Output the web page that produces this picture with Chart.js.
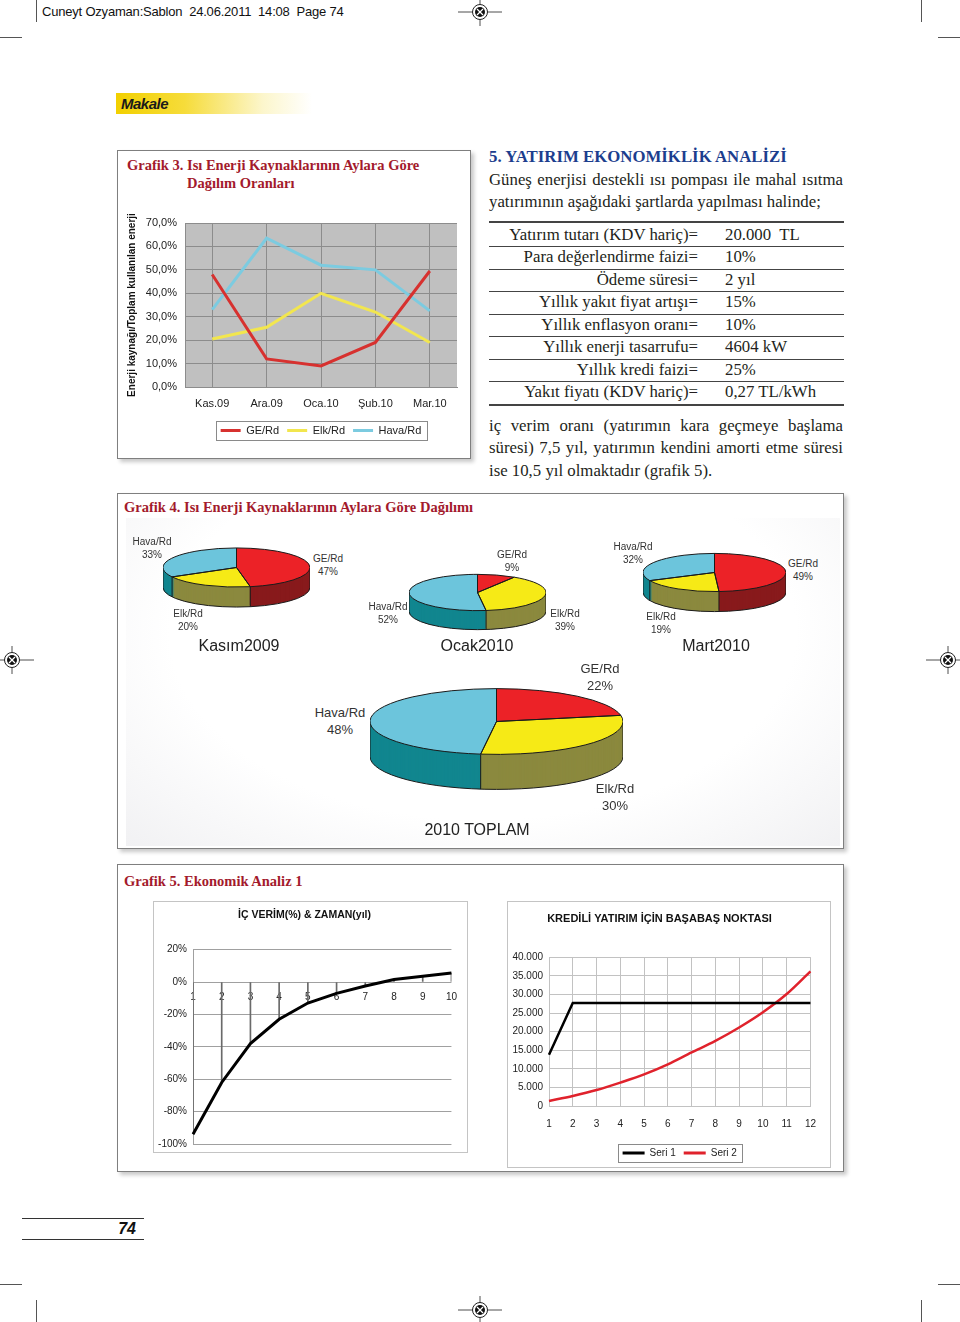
<!DOCTYPE html>
<html lang="tr">
<head>
<meta charset="utf-8">
<title>Grafik 3 - 5</title>
<script src="https://cdn.jsdelivr.net/npm/chart.js@4.4.0/dist/chart.umd.min.js"></script>
<style>
  html, body { margin: 0; padding: 0; background: #fff; }
  #page { position: relative; width: 960px; height: 1322px; overflow: hidden;
          font-family: "Liberation Serif", "Times New Roman", serif; color: #231f20; }
  .abs { position: absolute; white-space: nowrap; }
  .hdr { left: 42px; top: 2px; font: 13px/20px "Liberation Sans", Arial, sans-serif; color: #111; letter-spacing: -0.2px; }
  .box { position: absolute; box-sizing: border-box; border: 1.5px solid #7f7f7f;
         box-shadow: 3px 3px 4px rgba(0,0,0,.22); background: #fff; }
  .panel { position: absolute; box-sizing: border-box; border: 1px solid #c4c4c4; background: #fff; }
  .gtitle { position: absolute; white-space: nowrap; color: #a31a2c; font-weight: bold; font-size: 14.5px; line-height: 18px; }
  .body { position: absolute; font-size: 16.8px; line-height: 22px; white-space: nowrap; }
  .just { text-align: justify; text-align-last: justify; white-space: normal; width: 354px; }
  .rule { position: absolute; left: 489px; width: 355px; height: 1px; background: #444; }
  .lbl { position: absolute; text-align: right; width: 209px; left: 489px; }
  .val { position: absolute; left: 725px; }
  .pl { position: absolute; transform: translateX(-50%); text-align: center; white-space: nowrap;
        font: 10px/13px "Liberation Sans", Arial, sans-serif; color: #333; z-index: 3; }
  .pl.big { font-size: 13px; line-height: 17px; }
  .ptitle { position: absolute; transform: translateX(-50%); white-space: nowrap;
            font: 16px/20px "Liberation Sans", Arial, sans-serif; color: #222; z-index: 3; }
  canvas { position: absolute; }
  .mark { position: absolute; background: #555; }
</style>
</head>
<body>
<div id="page">
  <!-- print header & crop marks -->
  <div class="abs hdr">Cuneyt Ozyaman:Sablon&nbsp; 24.06.2011&nbsp; 14:08&nbsp; Page 74</div>
  <div class="mark" style="left:36px;top:0;width:1px;height:22px"></div>
  <div class="mark" style="left:921px;top:0;width:1px;height:22px"></div>
  <div class="mark" style="left:0;top:37px;width:22px;height:1px"></div>
  <div class="mark" style="left:938px;top:37px;width:22px;height:1px"></div>
  <div class="mark" style="left:0;top:1284px;width:22px;height:1px"></div>
  <div class="mark" style="left:938px;top:1284px;width:22px;height:1px"></div>
  <div class="mark" style="left:36px;top:1300px;width:1px;height:22px"></div>
  <div class="mark" style="left:921px;top:1300px;width:1px;height:22px"></div>

  <!-- Makale band -->
  <div class="abs" style="left:116px;top:93px;width:196px;height:21px;background:linear-gradient(to right,#f2d000 0%,#f6dc3a 35%,rgba(250,240,170,.6) 75%,rgba(255,255,255,0) 100%)"></div>
  <div class="abs" style="left:121px;top:93px;font:bold italic 15px/21px 'Liberation Sans',Arial,sans-serif;color:#1a1a1a;letter-spacing:-0.5px">Makale</div>

  <!-- Grafik 3 -->
  <div class="box" style="left:117px;top:150px;width:354px;height:309px"></div>
  <div class="gtitle" style="left:127px;top:156px">Grafik 3. Isı Enerji Kaynaklarının Aylara Göre</div>
  <div class="gtitle" style="left:187px;top:174px">Dağılım Oranları</div>
  <canvas id="lineChart" width="345" height="263" style="left:120px;top:183px"></canvas>

  <!-- text column -->
  <div class="body" style="left:489px;top:146px;font-weight:bold;color:#1c3e8e">5. YATIRIM EKONOMİKLİK ANALİZİ</div>
  <div class="body just" style="left:489px;top:169px">Güneş enerjisi destekli ısı pompası ile mahal ısıtma</div>
  <div class="body" style="left:489px;top:191px">yatırımının aşağıdaki şartlarda yapılması halinde;</div>
  <div class="rule" style="top:221px;height:1.5px"></div>
  <div class="rule" style="top:246px"></div>
  <div class="rule" style="top:269px"></div>
  <div class="rule" style="top:291px"></div>
  <div class="rule" style="top:314px"></div>
  <div class="rule" style="top:336px"></div>
  <div class="rule" style="top:359px"></div>
  <div class="rule" style="top:381px"></div>
  <div class="rule" style="top:404px;height:1.5px"></div>
  <div class="body lbl" style="top:224px">Yatırım tutarı (KDV hariç)=</div><div class="body val" style="top:224px">20.000&nbsp; TL</div>
  <div class="body lbl" style="top:246px">Para değerlendirme faizi=</div><div class="body val" style="top:246px">10%</div>
  <div class="body lbl" style="top:269px">Ödeme süresi=</div><div class="body val" style="top:269px">2 yıl</div>
  <div class="body lbl" style="top:291px">Yıllık yakıt fiyat artışı=</div><div class="body val" style="top:291px">15%</div>
  <div class="body lbl" style="top:314px">Yıllık enflasyon oranı=</div><div class="body val" style="top:314px">10%</div>
  <div class="body lbl" style="top:336px">Yıllık enerji tasarrufu=</div><div class="body val" style="top:336px">4604 kW</div>
  <div class="body lbl" style="top:359px">Yıllık kredi faizi=</div><div class="body val" style="top:359px">25%</div>
  <div class="body lbl" style="top:381px">Yakıt fiyatı (KDV hariç)=</div><div class="body val" style="top:381px">0,27 TL/kWh</div>
  <div class="body just" style="left:489px;top:415px">iç verim oranı (yatırımın kara geçmeye başlama</div>
  <div class="body just" style="left:489px;top:437px">süresi) 7,5 yıl, yatırımın kendini amorti etme süresi</div>
  <div class="body" style="left:489px;top:460px">ise 10,5 yıl olmaktadır (grafik 5).</div>

  <!-- Grafik 4 -->
  <div class="box" style="left:117px;top:493px;width:727px;height:356px"></div>
  <div class="abs" style="left:126px;top:518px;width:714px;height:328px;background:radial-gradient(ellipse at 50% 35%,#fff 62%,#f1f1f3 100%)"></div>
  <div class="gtitle" style="left:124px;top:498px">Grafik 4. Isı Enerji Kaynaklarının Aylara Göre Dağılımı</div>
  <canvas id="pieKasim" width="147" height="147" style="left:163px;top:494px"></canvas>
  <canvas id="pieOcak" width="137" height="137" style="left:409px;top:524px"></canvas>
  <canvas id="pieMart" width="143" height="143" style="left:643px;top:501px"></canvas>
  <canvas id="pieToplam" width="253" height="253" style="left:370px;top:595px"></canvas>
  <div id="pieLabels"></div>

  <!-- Grafik 5 -->
  <div class="box" style="left:117px;top:864px;width:727px;height:308px"></div>
  <div class="gtitle" style="left:124px;top:872px">Grafik 5. Ekonomik Analiz 1</div>
  <div class="panel" style="left:153px;top:901px;width:315px;height:252px"></div>
  <div class="panel" style="left:507px;top:901px;width:324px;height:267px"></div>
  <canvas id="irrChart" width="312" height="254" style="left:154px;top:902px"></canvas>
  <canvas id="breakEven" width="320" height="266" style="left:508px;top:902px"></canvas>

  <!-- page number -->
  <div class="mark" style="left:22px;top:1218px;width:122px;height:1px;background:#333"></div>
  <div class="mark" style="left:22px;top:1239px;width:122px;height:1px;background:#333"></div>
  <div class="abs" style="left:100px;width:36px;top:1218px;text-align:right;font:bold italic 16px/21px 'Liberation Sans',Arial,sans-serif;color:#111">74</div>
  <div id="regMarks"></div>
</div>

<script>
    // Grafik 3 : aylara göre oranlar (%)
    const months = ['Kas.09', 'Ara.09', 'Oca.10', 'Şub.10', 'Mar.10'];
    const geRd = [48, 12, 9, 19, 49.5];
    const elkRd = [20.5, 25.5, 40, 32, 19];
    const havaRd = [33, 63.5, 52, 50, 32.5];
    const yTicks3 = [0, 70, 10]; // min, max, step

    // Grafik 4 : pasta dilimleri (%)
    const pieLabels = ['GE/Rd', 'Elk/Rd', 'Hava/Rd'];
    const kasim2009 = [47, 20, 33];
    const ocak2010 = [9, 39, 52];
    const mart2010 = [49, 19, 32];
    const toplam2010 = [22, 30, 48];

    // Grafik 5 : iç verim ve başabaş noktası
    const irrYears = ['1', '2', '3', '4', '5', '6', '7', '8', '9', '10'];
    const icVerim = [-94, -62, -38, -23, -13, -7, -2.5, 1.5, 3.5, 5.5];
    const loanYears = ['1', '2', '3', '4', '5', '6', '7', '8', '9', '10', '11', '12'];
    const seri1 = [13800, 27700, 27700, 27700, 27700, 27700, 27700, 27700, 27700, 27700, 27700, 27700];
    const seri2 = [1350, 2700, 4300, 6300, 8500, 11200, 14400, 17500, 21100, 25200, 30100, 36200];

    const SANS = '"Liberation Sans", Arial, sans-serif';
    Chart.defaults.font.family = SANS;
    Chart.defaults.color = '#222';

    // fond gris de la zone de tracé
    const plotBg = {
        id: 'plotBg',
        beforeDraw(chart, args, opts) {
            if (!opts.color) return;
            const { ctx, chartArea: a } = chart;
            ctx.save();
            ctx.fillStyle = opts.color;
            ctx.fillRect(a.left, a.top, a.width, a.height);
            ctx.restore();
        }
    };

    // cadre autour de la légende
    const legendFrame = {
        id: 'legendFrame',
        afterDraw(chart, args, opts) {
            const lg = chart.legend;
            if (!opts.show || !lg || !lg.legendHitBoxes || !lg.legendHitBoxes.length) return;
            const hb = lg.legendHitBoxes;
            const l = Math.min(...hb.map(h => h.left)) - opts.padX;
            const r = Math.max(...hb.map(h => h.left + h.width)) + opts.padX;
            const t = Math.min(...hb.map(h => h.top)) - opts.padY;
            const b = Math.max(...hb.map(h => h.top + h.height)) + opts.padY;
            const ctx = chart.ctx;
            ctx.save();
            ctx.strokeStyle = '#8a8a8a';
            ctx.lineWidth = 1;
            ctx.strokeRect(Math.round(l) + 0.5, Math.round(t) + 0.5, Math.round(r - l), Math.round(b - t));
            ctx.restore();
        }
    };

    // légende en traits fins (sans contour)
    const lineLegendLabels = c => Chart.defaults.plugins.legend.labels.generateLabels(c)
        .map(l => Object.assign(l, { fillStyle: l.strokeStyle, lineWidth: 0 }));

    // ---------- Grafik 3 ----------
    new Chart(document.getElementById('lineChart'), {
        type: 'line',
        data: {
            labels: months,
            datasets: [
                { label: 'GE/Rd', data: geRd, borderColor: '#d7312f', borderWidth: 3 },
                { label: 'Elk/Rd', data: elkRd, borderColor: '#f2e64e', borderWidth: 3 },
                { label: 'Hava/Rd', data: havaRd, borderColor: '#7ccbe0', borderWidth: 3 }
            ]
        },
        options: {
            responsive: false,
            animation: false,
            events: [],
            elements: { point: { radius: 0 }, line: { tension: 0 } },
            layout: { padding: { top: 40, right: 8 } },
            plugins: {
                tooltip: { enabled: false },
                plotBg: { color: '#c0c0c0' },
                legendFrame: { show: true, padX: 5, padY: 4 },
                legend: {
                    position: 'bottom',
                    fullSize: false,
                    labels: {
                        boxWidth: 20, boxHeight: 3, padding: 8,
                        font: { size: 11 }, color: '#222',
                        generateLabels: lineLegendLabels
                    }
                }
            },
            scales: {
                x: {
                    offset: true,
                    grid: { offset: false, color: '#8c8c8c', drawTicks: false },
                    border: { color: '#8c8c8c' },
                    ticks: { padding: 10, font: { size: 11 }, color: '#222', maxRotation: 0 },
                    afterFit: s => { s.height = 30; }
                },
                y: {
                    min: yTicks3[0], max: yTicks3[1],
                    ticks: {
                        stepSize: yTicks3[2], padding: 8, font: { size: 11 }, color: '#222',
                        callback: v => v.toFixed(1).replace('.', ',') + '%'
                    },
                    grid: { color: '#8c8c8c', drawTicks: false },
                    border: { color: '#8c8c8c' },
                    title: {
                        display: true, text: 'Enerji kaynağı/Toplam kullanılan enerji',
                        font: { size: 10, weight: 'bold' }, color: '#111',
                        padding: { top: 6, bottom: 0 }
                    },
                    afterFit: s => { s.width = 65; }
                }
            }
        },
        plugins: [plotBg, legendFrame]
    });

    // ---------- Grafik 4 : pastas en perspective ----------
    const topColors = ['#ec2227', '#f6ea16', '#6cc5dc'];
    const sideColors = ['#881a1c', '#8b893e', '#11868f'];

    const tiltPlugin = {
        id: 'tilt',
        beforeDatasetsDraw(chart, args, opts) {
            const ctx = chart.ctx;
            const arcs = chart.getDatasetMeta(0).data;
            const cx = arcs[0].x, cy = arcs[0].y, r = arcs[0].outerRadius;
            const k = opts.ratio, depth = opts.depth;
            const squash = dy => { ctx.translate(cx, cy + dy); ctx.scale(1, k); ctx.translate(-cx, -cy); };

            // la tranche : on empile les parts vers le bas en teinte foncée
            for (let d = depth; d >= 1; d--) {
                arcs.forEach((a, i) => {
                    ctx.save();
                    squash(d);
                    ctx.beginPath();
                    ctx.moveTo(cx, cy);
                    ctx.arc(cx, cy, r, a.startAngle, a.endAngle);
                    ctx.closePath();
                    ctx.fillStyle = sideColors[i];
                    ctx.fill();
                    ctx.restore();
                });
            }
            // contour de la tranche
            ctx.save();
            ctx.strokeStyle = '#1b1b1b';
            ctx.lineWidth = 1;
            ctx.beginPath();
            ctx.save(); squash(depth);
            ctx.moveTo(cx + r, cy);
            ctx.arc(cx, cy, r, 0, Math.PI);
            ctx.restore();
            ctx.stroke();
            [0, Math.PI].concat(arcs.map(a => a.startAngle)).forEach(t => {
                const s = Math.sin(t);
                if (s < -1e-6) return;
                const ex = cx + r * Math.cos(t), ey = cy + r * s * k;
                ctx.beginPath();
                ctx.moveTo(ex, ey);
                ctx.lineTo(ex, ey + depth);
                ctx.stroke();
            });
            ctx.restore();

            // le dessus : Chart.js dessine les parts dans le repère écrasé
            ctx.save();
            squash(0);
        },
        afterDatasetsDraw(chart, args, opts) {
            const ctx = chart.ctx;
            ctx.restore();
            const arcs = chart.getDatasetMeta(0).data;
            const cx = arcs[0].x, cy = arcs[0].y, r = arcs[0].outerRadius;
            const k = opts.ratio;
            ctx.save();
            ctx.strokeStyle = '#1b1b1b';
            ctx.lineWidth = 1;
            arcs.forEach(a => {
                ctx.save();
                ctx.translate(cx, cy); ctx.scale(1, k); ctx.translate(-cx, -cy);
                ctx.beginPath();
                ctx.moveTo(cx, cy);
                ctx.arc(cx, cy, r, a.startAngle, a.endAngle);
                ctx.closePath();
                ctx.restore();
                ctx.stroke();
            });
            ctx.restore();
        }
    };

    function makePie(id, values, ratio, depth) {
        new Chart(document.getElementById(id), {
            type: 'pie',
            data: {
                labels: pieLabels,
                datasets: [{ data: values, backgroundColor: topColors, borderWidth: 0, hoverOffset: 0 }]
            },
            options: {
                responsive: false,
                animation: false,
                events: [],
                plugins: {
                    legend: { display: false },
                    tooltip: { enabled: false },
                    tilt: { ratio: ratio, depth: depth }
                }
            },
            plugins: [tiltPlugin]
        });
    }
    makePie('pieKasim', kasim2009, 0.266, 20);
    makePie('pieOcak', ocak2010, 0.265, 19);
    makePie('pieMart', mart2010, 0.267, 20);
    makePie('pieToplam', toplam2010, 0.26, 35);

    // étiquettes des pastas (ordre : GE, Elk, Hava)
    const pieText = [
        { values: kasim2009, title: 'Kasım2009', tx: 239, ty: 636, big: false, pos: [[328, 552], [188, 607], [152, 535]] },
        { values: ocak2010, title: 'Ocak2010', tx: 477, ty: 636, big: false, pos: [[512, 548], [565, 607], [388, 600]] },
        { values: mart2010, title: 'Mart2010', tx: 716, ty: 636, big: false, pos: [[803, 557], [661, 610], [633, 540]] },
        { values: toplam2010, title: '2010 TOPLAM', tx: 477, ty: 820, big: true, pos: [[600, 660], [615, 780], [340, 704]] }
    ];
    const holder = document.getElementById('pieLabels');
    pieText.forEach(p => {
        p.values.forEach((v, i) => {
            const d = document.createElement('div');
            d.className = 'pl' + (p.big ? ' big' : '');
            d.style.left = p.pos[i][0] + 'px';
            d.style.top = p.pos[i][1] + 'px';
            d.innerHTML = pieLabels[i] + '<br>' + v + '%';
            holder.appendChild(d);
        });
        const t = document.createElement('div');
        t.className = 'ptitle';
        t.style.left = p.tx + 'px';
        t.style.top = p.ty + 'px';
        t.textContent = p.title;
        holder.appendChild(t);
    });

    // ---------- Grafik 5 : iç verim ----------
    new Chart(document.getElementById('irrChart'), {
        type: 'line',
        data: {
            labels: irrYears,
            datasets: [
                { type: 'line', data: icVerim, borderColor: '#000', borderWidth: 3, pointRadius: 0, tension: 0, order: 0 },
                { type: 'bar', data: icVerim, backgroundColor: '#6a6a6a', barThickness: 1, order: 1 }
            ]
        },
        options: {
            responsive: false,
            animation: false,
            events: [],
            layout: { padding: { right: 11, bottom: 8 } },
            plugins: {
                legend: { display: false },
                tooltip: { enabled: false },
                title: {
                    display: true, text: 'İÇ VERİM(%) & ZAMAN(yıl)',
                    font: { size: 10.5, weight: 'bold' }, color: '#111',
                    padding: { top: 7, bottom: 28 }
                }
            },
            scales: {
                x: {
                    type: 'category',
                    offset: false,
                    position: { y: 0 },
                    grid: { display: false, drawTicks: false },
                    border: { display: false },
                    ticks: { padding: 9, font: { size: 10 }, color: '#222', maxRotation: 0 },
                    afterFit: s => { s.height = 0; }
                },
                y: {
                    min: -100, max: 20,
                    ticks: { stepSize: 20, padding: 6, font: { size: 10 }, color: '#222', callback: v => v + '%' },
                    grid: { color: '#a0a0a0', drawTicks: false },
                    border: { color: '#a0a0a0' },
                    afterFit: s => { s.width = 39; }
                }
            }
        }
    });

    // ---------- Grafik 5 : başabaş noktası ----------
    const dotThousands = v => String(v).replace(/\B(?=(\d{3})+(?!\d))/g, '.');
    new Chart(document.getElementById('breakEven'), {
        type: 'line',
        data: {
            labels: loanYears,
            datasets: [
                { label: 'Seri 1', data: seri1, borderColor: '#000', borderWidth: 2.5, pointRadius: 0, tension: 0 },
                { label: 'Seri 2', data: seri2, borderColor: '#e0222c', borderWidth: 2.5, pointRadius: 0, cubicInterpolationMode: 'monotone' }
            ]
        },
        options: {
            responsive: false,
            animation: false,
            events: [],
            layout: { padding: { right: 17 } },
            plugins: {
                tooltip: { enabled: false },
                title: {
                    display: true, text: 'KREDİLİ YATIRIM İÇİN BAŞABAŞ NOKTASI',
                    font: { size: 11, weight: 'bold' }, color: '#111',
                    padding: { top: 10, bottom: 32 }
                },
                legendFrame: { show: true, padX: 5, padY: 4 },
                legend: {
                    position: 'bottom',
                    fullSize: false,
                    labels: {
                        boxWidth: 22, boxHeight: 3, padding: 8,
                        font: { size: 10 }, color: '#222',
                        generateLabels: lineLegendLabels
                    }
                }
            },
            scales: {
                x: {
                    offset: false,
                    grid: { color: '#c2c2c2', drawTicks: false },
                    border: { color: '#c2c2c2' },
                    ticks: { padding: 12, font: { size: 10 }, color: '#222', maxRotation: 0 },
                    afterFit: s => { s.height = 34; }
                },
                y: {
                    min: 0, max: 40000,
                    ticks: { stepSize: 5000, padding: 6, font: { size: 10 }, color: '#222', callback: dotThousands },
                    grid: { color: '#c2c2c2', drawTicks: false },
                    border: { color: '#c2c2c2' },
                    afterFit: s => { s.width = 41; }
                }
            }
        },
        plugins: [legendFrame]
    });

    // repères d'impression
    const regPoints = [[480, 12], [12, 660], [948, 660], [480, 1310]];
    document.getElementById('regMarks').innerHTML = regPoints.map(([x, y]) =>
        `<svg class="abs" style="left:${x - 24}px;top:${y - 24}px" width="48" height="48">
           <line x1="2" y1="24" x2="46" y2="24" stroke="#222" stroke-width="0.8"/>
           <line x1="24" y1="10" x2="24" y2="38" stroke="#222" stroke-width="0.8"/>
           <circle cx="24" cy="24" r="7.5" fill="#fff" stroke="#222" stroke-width="1"/>
           <circle cx="24" cy="24" r="5" fill="#111"/>
           <line x1="21" y1="21" x2="27" y2="27" stroke="#fff" stroke-width="1.2"/>
           <line x1="27" y1="21" x2="21" y2="27" stroke="#fff" stroke-width="1.2"/>
         </svg>`).join('');
</script>
</body>
</html>
